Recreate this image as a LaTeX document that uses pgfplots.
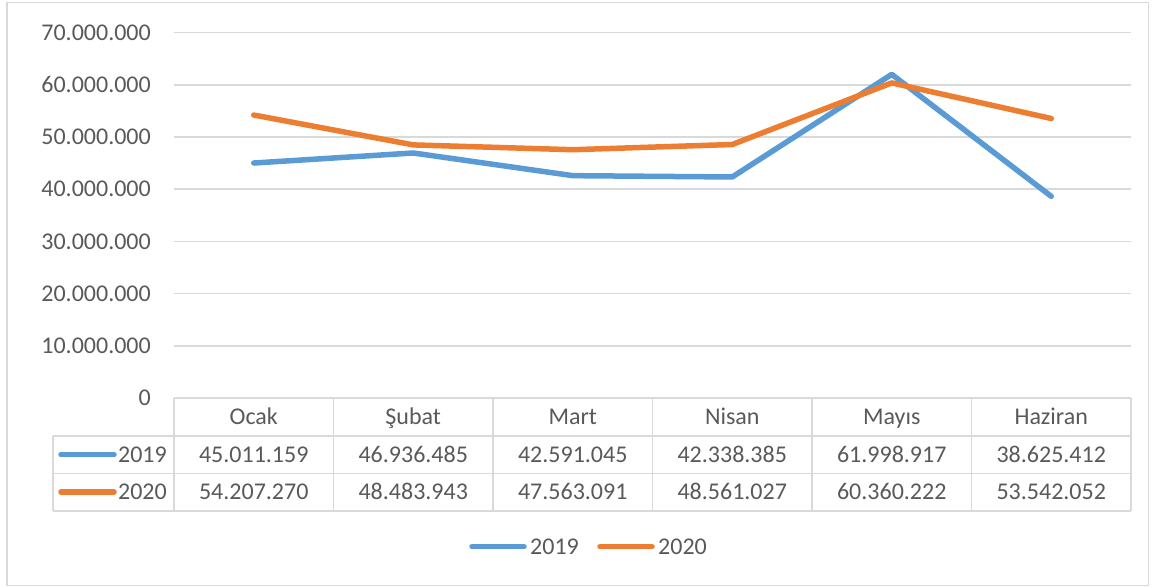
\documentclass[border=0pt]{standalone}
\usepackage{pgfplots}
\pgfplotsset{compat=1.18}
\usepackage{fontspec}
\setmainfont{Carlito}
\definecolor{txt}{HTML}{595959}
\definecolor{grd}{HTML}{D9D9D9}
\definecolor{c19}{HTML}{5B9BD5}
\definecolor{c20}{HTML}{ED7D31}
\newcommand{\fs}{\fontsize{24bp}{28bp}\selectfont}
\begin{document}
\begin{tikzpicture}[x=1bp,y=1bp]
\path (0,0) rectangle (1156,588);
\draw[grd, line width=1.5bp] (7,2.5) rectangle (1148.5,585.5);
\begin{axis}[
  at={(174bp,190bp)}, anchor=south west, scale only axis,
  width=957bp, height=365.4bp,
  xmin=0, xmax=6, ymin=0, ymax=70000000,
  axis line style={draw=none},
  xtick=\empty,
  ytick={0,10000000,20000000,30000000,40000000,50000000,60000000,70000000},
  yticklabels={0,10.000.000,20.000.000,30.000.000,40.000.000,50.000.000,60.000.000,70.000.000},
  scaled y ticks=false,
  ytick style={draw=none}, major tick length=0pt,
  yticklabel style={font=\fs, text=txt, inner sep=0pt, anchor=east, xshift=-23bp},
  ymajorgrids, grid style={grd, line width=1.5bp},
  clip=false,
]
\addplot[c19, line width=5.5bp, line cap=round, line join=round] coordinates {
 (0.5,45011159) (1.5,46936485) (2.5,42591045) (3.5,42338385) (4.5,61998917) (5.5,38625412)};
\addplot[c20, line width=5.5bp, line cap=round, line join=round] coordinates {
 (0.5,54207270) (1.5,48483943) (2.5,47563091) (3.5,48561027) (4.5,60360222) (5.5,53542052)};
\end{axis}
% data table grid
\begin{scope}[grd, line width=1.5bp]
\draw (174,190) -- (1131,190);
\draw (53,152) -- (1131,152);
\draw (53,114.5) -- (1131,114.5);
\draw (53,77) -- (1131,77);
\draw (53,152) -- (53,77);
\foreach \i in {0,...,6} { \draw ({174+159.5*\i},190) -- ({174+159.5*\i},77); }
\end{scope}
\begin{scope}[every node/.style={font=\fs, text=txt, inner sep=0pt, text height=16bp, text depth=0bp}]
\foreach \m [count=\i from 0] in {Ocak,Şubat,Mart,Nisan,Mayıs,Haziran} {
  \node at ({174+159.5*(\i+0.5)},171) {\m};
}
\foreach \v [count=\i from 0] in {45.011.159,46.936.485,42.591.045,42.338.385,61.998.917,38.625.412} {
  \node at ({174+159.5*(\i+0.5)},133.3) {\v};
}
\foreach \v [count=\i from 0] in {54.207.270,48.483.943,47.563.091,48.561.027,60.360.222,53.542.052} {
  \node at ({174+159.5*(\i+0.5)},96) {\v};
}
\draw[c19, line width=5.5bp, line cap=round] (61,133.3) -- (114,133.3);
\node[anchor=east] at (167,133.3) {2019};
\draw[c20, line width=5.5bp, line cap=round] (61,96) -- (114,96);
\node[anchor=east] at (167,96) {2020};
% legend
\draw[c19, line width=5.5bp, line cap=round] (472,41.3) -- (524,41.3);
\node[anchor=west] at (530,41.3) {2019};
\draw[c20, line width=5.5bp, line cap=round] (600,41.3) -- (652,41.3);
\node[anchor=west] at (658,41.3) {2020};
\end{scope}
\end{tikzpicture}
\end{document}
